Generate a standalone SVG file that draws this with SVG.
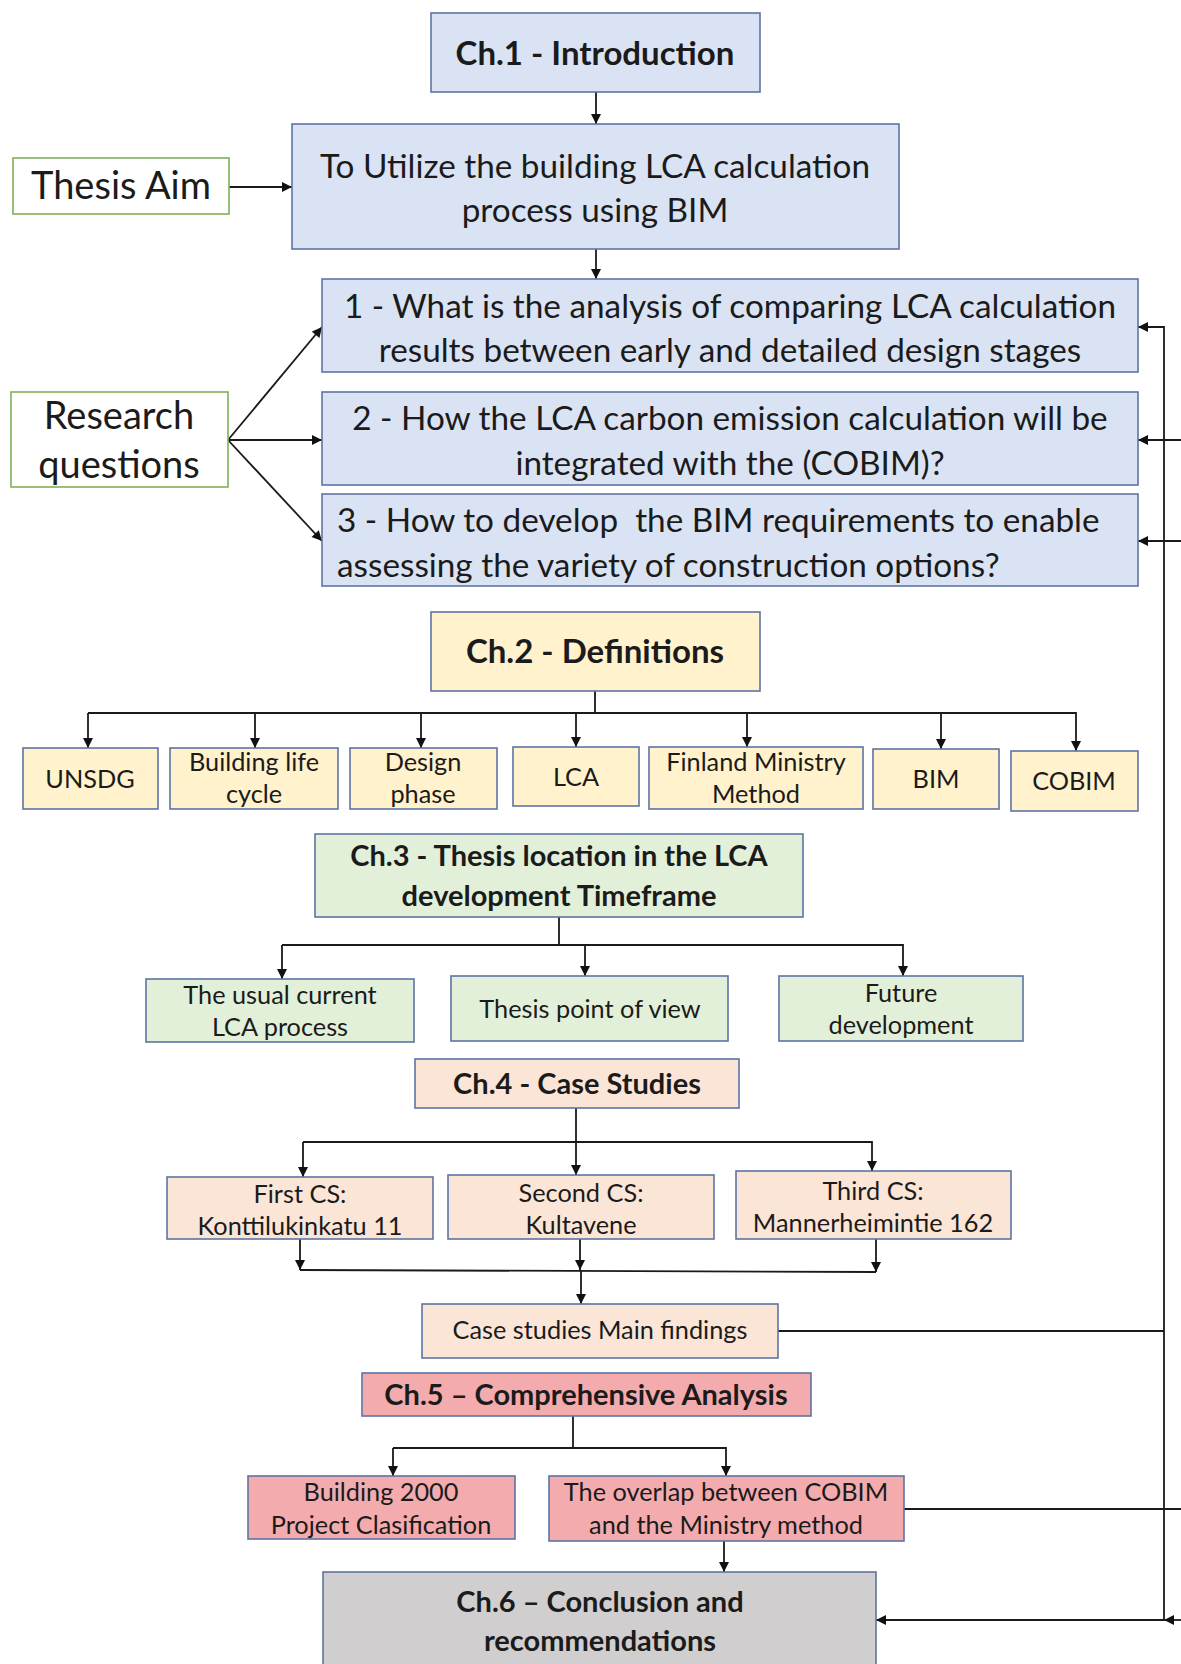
<svg xmlns="http://www.w3.org/2000/svg" width="1181" height="1664" viewBox="0 0 1181 1664">
<defs>
<marker id="ah" viewBox="0 0 10 10" refX="10" refY="5" markerWidth="11" markerHeight="10" markerUnits="userSpaceOnUse" orient="auto">
<path d="M0,0 L10,5 L0,10 z" fill="#111"/>
</marker>
</defs>
<style>
text{font-family:Lato,"Liberation Sans",sans-serif;fill:#1b1b1b;text-anchor:middle}
.b{font-weight:bold}
.h{font-size:33px}
.h3{font-size:29px}
.q{font-size:33.3px}
.s{font-size:25.3px}
.g{font-size:38px}
rect{stroke:#5d74a3;stroke-width:1.6}
.blue{fill:#dae3f3}
.yel{fill:#fff2cc}
.grn{fill:#e2f0d9}
.pch{fill:#fbe5d6}
.pnk{fill:#f4abae}
.gry{fill:#d0cece}
.wg{fill:#ffffff;stroke:#80b15a}
.c line,.c path{stroke:#1a1a1a;stroke-width:1.8;fill:none}
.a{marker-end:url(#ah)}
</style>
<rect width="1181" height="1664" fill="#ffffff" style="stroke:none"/>

<g id="connectors" class="c">
<line class="a" x1="596" y1="92" x2="596" y2="124"/>
<line class="a" x1="229" y1="187" x2="292" y2="187"/>
<line class="a" x1="596" y1="249" x2="596" y2="279"/>
<line class="a" x1="228" y1="440" x2="322" y2="327"/>
<line class="a" x1="228" y1="440" x2="322" y2="440"/>
<line class="a" x1="228" y1="440" x2="322" y2="541"/>
<path class="a" d="M1164,1620 V327 H1138"/>
<line class="a" x1="1181" y1="440" x2="1138" y2="440"/>
<line class="a" x1="1181" y1="541" x2="1138" y2="541"/>
<path d="M595,691 V713 M88,713 H1076"/>
<line class="a" x1="88" y1="713" x2="88" y2="748"/>
<line class="a" x1="255" y1="713" x2="255" y2="748"/>
<line class="a" x1="421" y1="713" x2="421" y2="748"/>
<line class="a" x1="576" y1="713" x2="576" y2="747"/>
<line class="a" x1="747" y1="713" x2="747" y2="747"/>
<line class="a" x1="941" y1="713" x2="941" y2="749"/>
<line class="a" x1="1076" y1="712" x2="1076" y2="751"/>
<path d="M559,917 V945 M282,945 H903"/>
<line class="a" x1="282" y1="945" x2="282" y2="979"/>
<line class="a" x1="585" y1="945" x2="585" y2="976"/>
<line class="a" x1="903" y1="944" x2="903" y2="976"/>
<line class="a" x1="576" y1="1108" x2="576" y2="1175"/>
<path d="M303,1142 H872"/>
<line class="a" x1="303" y1="1142" x2="303" y2="1177"/>
<line class="a" x1="872" y1="1141" x2="872" y2="1171"/>
<line class="a" x1="300" y1="1239" x2="300" y2="1270"/>
<line class="a" x1="580" y1="1239" x2="580" y2="1270"/>
<line class="a" x1="876" y1="1239" x2="876" y2="1272"/>
<path d="M300,1270 L876,1272"/>
<line class="a" x1="581" y1="1271" x2="581" y2="1304"/>
<line x1="778" y1="1331" x2="1164" y2="1331"/>
<path d="M573,1416 V1448 M393,1448 H726"/>
<line class="a" x1="393" y1="1448" x2="393" y2="1476"/>
<line class="a" x1="726" y1="1447" x2="726" y2="1476"/>
<line x1="904" y1="1509" x2="1181" y2="1509"/>
<line class="a" x1="724" y1="1541" x2="724" y2="1572"/>
<line class="a" x1="1164" y1="1620" x2="876" y2="1620"/>
<line class="a" x1="1181" y1="1620" x2="1164" y2="1620"/>
</g>

<g id="ch1"><rect class="blue" x="431" y="13" width="329" height="79"/><text class="b h" x="595" y="65">Ch.1 - Introduction</text></g>
<g id="aim"><rect class="blue" x="292" y="124" width="607" height="125"/><text class="q" x="595" y="178">To Utilize the building LCA calculation</text><text class="q" x="595" y="222">process using BIM</text></g>
<g id="thesis-aim"><rect class="wg" x="13" y="158" width="216" height="56"/><text class="g" x="121" y="199">Thesis Aim</text></g>
<g id="research"><rect class="wg" x="11" y="392" width="217" height="95"/><text class="g" x="119" y="429">Research</text><text class="g" x="119" y="478">questions</text></g>
<g id="q1"><rect class="blue" x="322" y="279" width="816" height="93"/><text class="q" x="730" y="318">1 - What is the analysis of comparing LCA calculation</text><text class="q" x="730" y="362">results between early and detailed design stages</text></g>
<g id="q2"><rect class="blue" x="322" y="392" width="816" height="93"/><text class="q" x="730" y="430">2 - How the LCA carbon emission calculation will be</text><text class="q" x="730" y="475">integrated with the (COBIM)?</text></g>
<g id="q3"><rect class="blue" x="322" y="494" width="816" height="92"/><text class="q" x="337" y="532" style="text-anchor:start" xml:space="preserve">3 - How to develop  the BIM requirements to enable</text><text class="q" x="337" y="577" style="text-anchor:start">assessing the variety of construction options?</text></g>

<g id="ch2"><rect class="yel" x="431" y="612" width="329" height="79"/><text class="b h" x="595" y="663">Ch.2 - Definitions</text></g>
<g id="unsdg"><rect class="yel" x="23" y="748" width="135" height="61"/><text class="s" x="90" y="788">UNSDG</text></g>
<g id="blc"><rect class="yel" x="170" y="748" width="168" height="61"/><text class="s" x="254" y="771">Building life</text><text class="s" x="254" y="803">cycle</text></g>
<g id="design"><rect class="yel" x="350" y="748" width="147" height="61"/><text class="s" x="423" y="771">Design</text><text class="s" x="423" y="803">phase</text></g>
<g id="lca"><rect class="yel" x="513" y="747" width="126" height="59"/><text class="s" x="576" y="786">LCA</text></g>
<g id="fmm"><rect class="yel" x="649" y="747" width="214" height="62"/><text class="s" x="756" y="771">Finland Ministry</text><text class="s" x="756" y="803">Method</text></g>
<g id="bim"><rect class="yel" x="873" y="749" width="126" height="60"/><text class="s" x="936" y="788">BIM</text></g>
<g id="cobim"><rect class="yel" x="1011" y="751" width="127" height="60"/><text class="s" x="1074" y="790">COBIM</text></g>

<g id="ch3"><rect class="grn" x="315" y="834" width="488" height="83"/><text class="b h3" x="559" y="866">Ch.3 - Thesis location in the LCA</text><text class="b h3" x="559" y="906">development Timeframe</text></g>
<g id="usual"><rect class="grn" x="146" y="979" width="268" height="63"/><text class="s" x="280" y="1004">The usual current</text><text class="s" x="280" y="1036">LCA process</text></g>
<g id="pov"><rect class="grn" x="451" y="976" width="277" height="65"/><text class="s" x="590" y="1018">Thesis point of view</text></g>
<g id="future"><rect class="grn" x="779" y="976" width="244" height="65"/><text class="s" x="901" y="1002">Future</text><text class="s" x="901" y="1034">development</text></g>

<g id="ch4"><rect class="pch" x="415" y="1059" width="324" height="49"/><text class="b h3" x="577" y="1094">Ch.4 - Case Studies</text></g>
<g id="cs1"><rect class="pch" x="167" y="1177" width="266" height="62"/><text class="s" x="300" y="1203">First CS:</text><text class="s" x="300" y="1235">Konttilukinkatu 11</text></g>
<g id="cs2"><rect class="pch" x="448" y="1175" width="266" height="64"/><text class="s" x="581" y="1202">Second CS:</text><text class="s" x="581" y="1234">Kultavene</text></g>
<g id="cs3"><rect class="pch" x="736" y="1171" width="275" height="68"/><text class="s" x="873" y="1200">Third CS:</text><text class="s" x="873" y="1232">Mannerheimintie 162</text></g>
<g id="findings"><rect class="pch" x="422" y="1304" width="356" height="54"/><text class="s" x="600" y="1339">Case studies Main findings</text></g>

<g id="ch5"><rect class="pnk" x="362" y="1373" width="449" height="43"/><text class="b h3" x="586" y="1405">Ch.5 – Comprehensive Analysis</text></g>
<g id="b2000"><rect class="pnk" x="248" y="1476" width="267" height="63"/><text class="s" x="381" y="1501">Building 2000</text><text class="s" x="381" y="1534">Project Clasification</text></g>
<g id="overlap"><rect class="pnk" x="549" y="1476" width="355" height="65"/><text class="s" x="726" y="1501">The overlap between COBIM</text><text class="s" x="726" y="1534">and the Ministry method</text></g>
<g id="ch6"><rect class="gry" x="323" y="1572" width="553" height="100"/><text class="b h3" x="600" y="1612">Ch.6 – Conclusion and</text><text class="b h3" x="600" y="1651">recommendations</text></g>
</svg>
